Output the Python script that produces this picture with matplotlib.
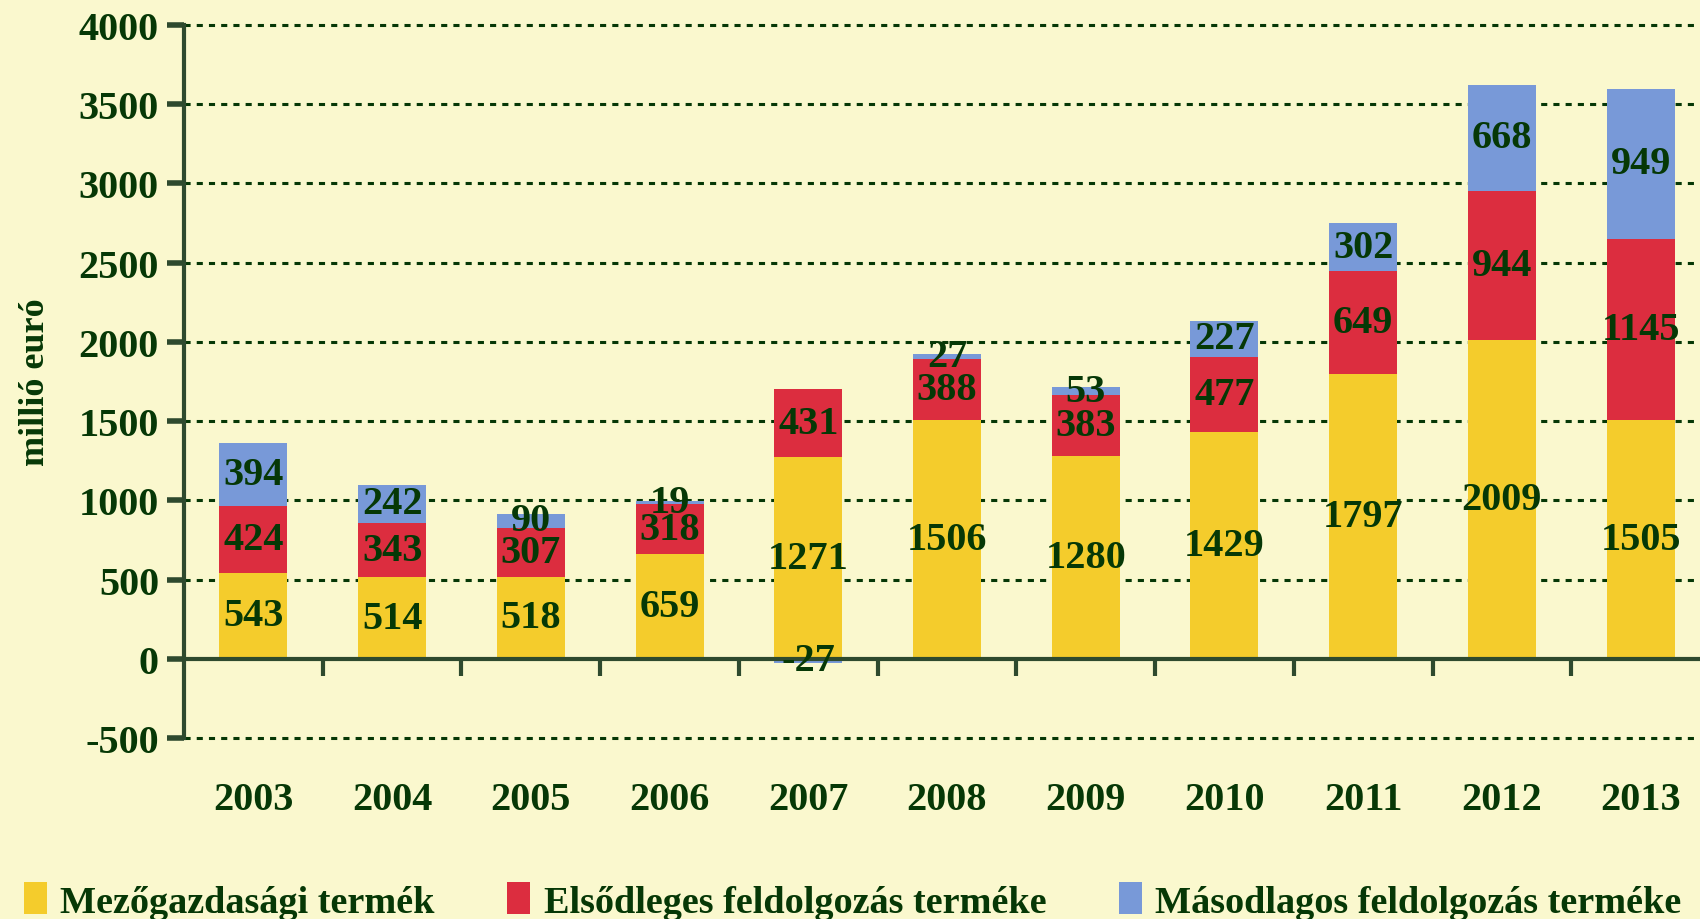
import matplotlib.pyplot as plt
import numpy as np

years = ['2003', '2004', '2005', '2006', '2007', '2008', '2009', '2010', '2011', '2012', '2013']
mezo = [543, 514, 518, 659, 1271, 1506, 1280, 1429, 1797, 2009, 1505]
elso = [424, 343, 307, 318, 431, 388, 383, 477, 649, 944, 1145]
maso = [394, 242, 90, 19, -27, 27, 53, 227, 302, 668, 949]
names = ['Mezőgazdasági termék', 'Elsődleges feldolgozás terméke', 'Másodlagos feldolgozás terméke']

bg = '#FAF8CE'
txt = '#063806'
axc = '#2E4A2E'
colors = ['#F4CC2C', '#DC2D3F', '#7899D8']

plt.rcParams['font.family'] = ['Liberation Serif', 'DejaVu Serif']
plt.rcParams['font.weight'] = 'bold'
plt.rcParams['axes.unicode_minus'] = False

fig = plt.figure(figsize=(17, 9.2), dpi=100, facecolor=bg)
ax = fig.add_axes([184/1700, 1-739/920, 1526/1700, 713/920])
ax.set_facecolor(bg)

x = np.arange(len(years))
w = 0.49
mezo = np.array(mezo)
elso = np.array(elso)
maso = np.array(maso)

b1 = ax.bar(x, mezo, w, color=colors[0], label=names[0], zorder=2)
b2 = ax.bar(x, elso, w, bottom=mezo, color=colors[1], label=names[1], zorder=2)
bot3 = np.where(maso < 0, 0, mezo + elso)
b3 = ax.bar(x, maso, w, bottom=bot3, color=colors[2], label=names[2], zorder=2)

fs = 29
for i in range(len(years)):
    ax.text(x[i], mezo[i]/2, str(mezo[i]), ha='center', va='center', fontsize=fs, color=txt, zorder=5)
    ax.text(x[i], mezo[i] + elso[i]/2, str(elso[i]), ha='center', va='center', fontsize=fs, color=txt, zorder=5)
    ax.text(x[i], bot3[i] + maso[i]/2, str(maso[i]), ha='center', va='center', fontsize=fs, color=txt, zorder=5)

ax.set_xlim(-0.5, len(years) - 0.5)
ax.set_ylim(-500, 4000)
ax.set_yticks(np.arange(-500, 4001, 500))
for yv in np.arange(-500, 4001, 500):
    if yv != 0:
        ax.axhline(yv, color=txt, lw=2.2, ls=(0, (2, 2)), zorder=1, clip_on=False)

for s in ['top', 'right']:
    ax.spines[s].set_visible(False)
ax.spines['left'].set_color(axc)
ax.spines['left'].set_linewidth(3)
ax.spines['bottom'].set_position(('data', 0))
ax.spines['bottom'].set_color(axc)
ax.spines['bottom'].set_linewidth(3)
ax.spines['bottom'].set_zorder(3)

ax.set_xticks(x)
ax.set_xticklabels(years)
ax.set_xticks(np.arange(0.5, len(years) - 0.5, 1), minor=True)
ax.tick_params(axis='x', which='major', length=0, pad=88, labelsize=fs, labelcolor=txt)
ax.tick_params(axis='x', which='minor', length=12, width=3, color=axc, direction='out')
ax.tick_params(axis='y', length=12, width=4, color=axc, labelsize=fs, labelcolor=txt, pad=6)

fig.text(36/1700, 0.585, 'millió euró', rotation=90, ha='center', va='center', fontsize=26, color=txt)

fig.legend(handles=[b1, b2, b3], loc='center left', bbox_to_anchor=(24/1700, 1-902/920), ncol=3,
           frameon=False, fontsize=27.5, labelcolor=txt, handlelength=0.6, handleheight=0.9,
           handletextpad=0.35, columnspacing=1.9, borderaxespad=0, borderpad=0)

fig.savefig('out.png', dpi=100, facecolor=bg)
